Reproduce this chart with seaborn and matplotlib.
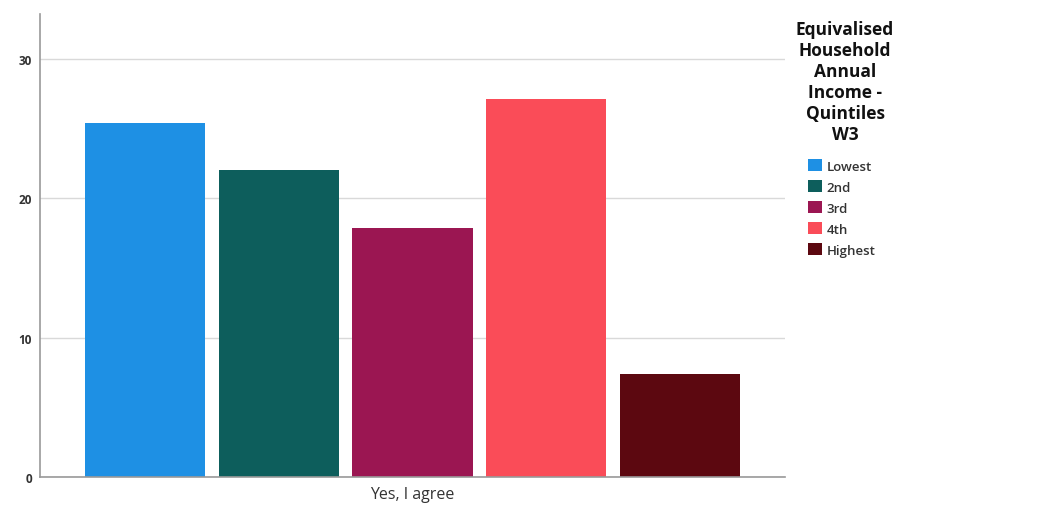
import pandas as pd
import matplotlib.pyplot as plt
import seaborn as sns
from matplotlib.patches import Patch

# data
response = ["Yes, I agree"]
quintiles = ["Lowest", "2nd", "3rd", "4th", "Highest"]
percent = [25.4, 22.0, 17.9, 27.1, 7.4]
colors = ["#1E90E4", "#0D5E5C", "#9B1652", "#FA4C58", "#5C0810"]

df = pd.DataFrame({
    "response": response * len(quintiles),
    "quintile": quintiles,
    "percent": percent,
})

sns.set_style("white")
plt.rcParams["font.family"] = ["Open Sans", "DejaVu Sans"]

fig = plt.figure(figsize=(10.55, 5.06), dpi=100)
ax = fig.add_axes([0.038, 0.055, 0.706, 0.915])

sns.barplot(data=df, x="response", y="percent", hue="quintile",
            hue_order=quintiles, palette=colors, width=0.897, gap=0.1,
            saturation=1, legend=False, edgecolor="none", ax=ax)

ax.set_xlim(-0.5, 0.5)
ax.set_ylim(0, 33.2)
ax.set_yticks([0, 10, 20, 30])
ax.yaxis.grid(True, color="#d9d9d9", linewidth=1)
ax.set_axisbelow(True)
ax.tick_params(axis="y", length=0, pad=6, labelsize=8.5, labelcolor="#333333")
for lbl in ax.get_yticklabels():
    lbl.set_fontweight("bold")
ax.tick_params(axis="x", length=0, pad=6, labelsize=11.5, labelcolor="#333333")
ax.set_xlabel("")
ax.set_ylabel("")

sns.despine(ax=ax, top=True, right=True)
for side in ["left", "bottom"]:
    ax.spines[side].set_color("#999999")
    ax.spines[side].set_linewidth(1.2)

# legend title drawn separately so it can be centred above the entries
fig.text(0.801, 0.958, "Equivalised\nHousehold\nAnnual\nIncome -\nQuintiles\nW3",
         ha="center", va="top", fontsize=12.5, fontweight="bold",
         linespacing=1.21, color="#111111")

handles = [Patch(facecolor=c, edgecolor="none") for c in colors]
fig.legend(handles, quintiles, loc="upper left", bbox_to_anchor=(0.761, 0.694),
           frameon=False, prop={"size": 9.5, "weight": "semibold"},
           handlelength=1.05, handleheight=1.05,
           handletextpad=0.35, labelspacing=0.56, borderaxespad=0,
           labelcolor="#333333")

fig.savefig("out.png", dpi=100)
